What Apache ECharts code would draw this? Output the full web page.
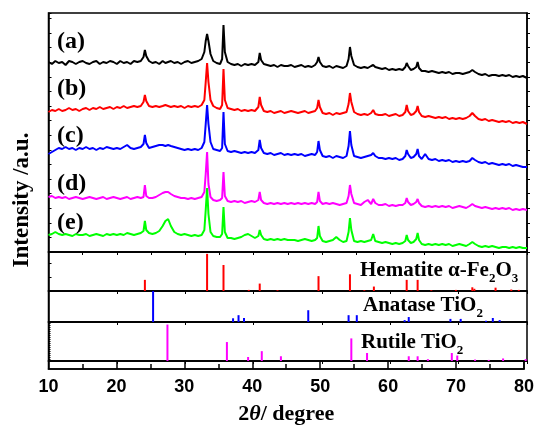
<!DOCTYPE html>
<html>
<head>
<meta charset="utf-8">
<script src="https://cdn.jsdelivr.net/npm/echarts@6/dist/echarts.min.js"></script>
<style>
html, body { margin: 0; padding: 0; background: #fff; }
#xrd { width: 537px; height: 429px; }
</style>
</head>
<body>
<div id="xrd"></div>
<script>
// 2theta sampling points, shared by the five patterns
const twoTheta = [
  10, 10.5, 11, 11.5, 12, 12.5, 13, 13.5, 14, 14.5,
  15, 15.5, 16, 16.5, 17, 17.5, 18, 18.5, 19, 19.5,
  20, 20.5, 21, 21.5, 22, 22.5, 23, 23.5, 23.9, 24.1,
  24.3, 24.7, 25.2, 25.7, 26.2, 26.7, 27.1, 27.5, 27.9, 28.4,
  28.9, 29.4, 29.9, 30.4, 30.9, 31.4, 31.9, 32.4, 32.8, 33.0,
  33.2, 33.4, 33.7, 34.1, 34.6, 35.1, 35.4, 35.6, 35.8, 36.2,
  36.7, 37.2, 37.7, 38.2, 38.7, 39.2, 39.7, 40.2, 40.7, 40.9,
  41.1, 41.5, 42, 42.5, 43, 43.5, 44, 44.5, 45, 45.5,
  46, 46.5, 47, 47.5, 48, 48.5, 49, 49.3, 49.5, 49.7,
  50.1, 50.6, 51.1, 51.6, 52.1, 52.6, 53.1, 53.6, 53.9, 54.1,
  54.3, 54.7, 55.2, 55.7, 56.2, 56.7, 57.2, 57.5, 57.8, 58.3,
  58.8, 59.3, 59.8, 60.3, 60.8, 61.3, 61.8, 62.2, 62.4, 62.6,
  63.0, 63.4, 63.8, 64.0, 64.2, 64.6, 65.1, 65.6, 66.1, 66.6,
  67.1, 67.6, 68.1, 68.6, 69.1, 69.6, 70.1, 70.6, 71.1, 71.6,
  72.0, 72.4, 72.9, 73.4, 73.9, 74.4, 74.9, 75.4, 75.9, 76.4,
  76.9, 77.4, 77.9, 78.4, 78.9, 79.4, 80
];

// intensities (a.u., curves already offset)
const sampleA = [
  190, 188, 191, 189, 190, 187, 191, 190, 188, 190,
  191, 189, 188, 190, 191, 188, 190, 189, 191, 190,
  188, 191, 189, 190, 188, 191, 190, 191, 195, 202,
  196, 191, 189, 190, 188, 191, 189, 190, 191, 189,
  190, 188, 190, 191, 189, 190, 191, 193, 200, 211,
  218, 211, 198, 191, 189, 188, 193, 227, 200, 190,
  188, 187, 188, 186, 188, 187, 188, 187, 190, 199,
  192, 188, 187, 186, 187, 185, 187, 186, 186, 187,
  185, 186, 187, 185, 186, 185, 187, 190, 195, 190,
  186, 185, 186, 184, 186, 185, 184, 186, 193, 205,
  196, 187, 185, 184, 185, 184, 186, 187, 185, 184,
  183, 184, 182, 183, 182, 183, 182, 185, 189, 186,
  182, 183, 185, 190, 184, 181, 181, 180, 181, 180,
  179, 180, 179, 180, 178, 179, 179, 178, 179, 180,
  182, 180, 178, 177, 178, 176, 177, 177, 176, 177,
  176, 177, 175, 176, 175, 176, 174
];
const sampleB = [
  140, 142, 141, 143, 141, 142, 144, 142, 143, 141,
  143, 144, 142, 144, 143, 145, 143, 144, 145, 143,
  145, 144, 146, 144, 145, 146, 145, 146, 150, 157,
  151, 146, 145, 146, 145, 146, 147, 146, 145, 146,
  145, 146, 144, 146, 145, 146, 145, 147, 152, 170,
  189, 170, 152, 146, 144, 143, 147, 183, 152, 144,
  143, 142, 143, 141, 142, 141, 142, 141, 145, 155,
  147, 141, 140, 141, 139, 140, 141, 139, 140, 141,
  140, 139, 140, 141, 139, 140, 141, 144, 152, 145,
  139, 138, 139, 137, 139, 138, 139, 140, 148, 159,
  150, 140, 138, 137, 138, 137, 139, 142, 138, 137,
  137, 138, 136, 137, 138, 136, 137, 140, 147, 141,
  137, 138, 141, 146, 140, 136, 135, 136, 135, 134,
  135, 134, 135, 133, 134, 133, 134, 133, 134, 136,
  139, 136, 133, 132, 133, 131, 132, 131, 130, 131,
  130, 131, 129, 130, 129, 130, 128
];
const sampleC = [
  98, 100, 102, 104, 103, 105, 103, 104, 102, 104,
  103, 105, 103, 104, 102, 104, 103, 105, 104, 103,
  104, 103, 105, 107, 104, 103, 104, 105, 108, 117,
  109, 104, 105, 106, 107, 107, 106, 107, 106, 105,
  104, 103, 102, 103, 102, 103, 102, 104, 110, 128,
  147, 128, 110, 103, 102, 101, 104, 140, 108, 101,
  100, 101, 100, 99, 100, 99, 100, 99, 102, 112,
  104, 99, 98, 99, 97, 98, 99, 97, 98, 97,
  98, 97, 98, 96, 97, 98, 97, 100, 111, 102,
  96, 95, 96, 94, 96, 95, 94, 96, 106, 121,
  107, 96, 95, 94, 95, 96, 97, 99, 96, 94,
  94, 93, 94, 93, 94, 92, 93, 96, 102, 98,
  94, 95, 98, 103, 96, 93, 98, 93, 92, 93,
  91, 92, 91, 92, 90, 91, 90, 91, 90, 91,
  94, 92, 90, 89, 90, 88, 89, 88, 87, 88,
  87, 88, 86, 87, 86, 85, 85
];
const sampleD = [
  55, 56, 54, 55, 54, 55, 53, 54, 55, 54,
  53, 54, 55, 54, 53, 54, 55, 53, 54, 55,
  54, 53, 54, 55, 53, 54, 55, 54, 55, 67,
  56, 54, 54, 55, 57, 59, 60, 60, 58, 56,
  55, 54, 54, 53, 54, 53, 54, 55, 60, 78,
  100, 68, 55, 52, 51, 52, 54, 80, 56, 51,
  50, 51, 50, 51, 49, 50, 51, 50, 52, 60,
  52, 49, 48, 49, 48, 49, 48, 49, 48, 49,
  48, 49, 48, 49, 48, 49, 48, 50, 60, 51,
  48, 49, 48, 49, 48, 47, 48, 49, 56, 67,
  58, 49, 48, 47, 50, 52, 48, 53, 49, 47,
  47, 48, 46, 47, 46, 47, 47, 49, 54, 50,
  47, 48, 50, 53, 49, 46, 45, 46, 45, 46,
  45, 46, 45, 46, 44, 45, 46, 45, 44, 46,
  48, 46, 45, 44, 45, 44, 43, 44, 43, 44,
  43, 44, 42, 43, 42, 43, 42
];
const sampleE = [
  17, 18, 20, 18, 17, 18, 17, 16, 18, 17,
  17, 18, 16, 17, 18, 17, 16, 18, 17, 18,
  17, 18, 17, 19, 18, 17, 18, 19, 21, 31,
  22, 19, 18, 19, 21, 26, 31, 33, 26, 20,
  18, 17, 18, 17, 16, 17, 16, 17, 22, 42,
  64, 38, 20, 16, 15, 15, 18, 45, 20, 14,
  14, 13, 14, 15, 17, 18, 16, 14, 16, 22,
  17, 13, 12, 13, 12, 13, 12, 13, 12, 12,
  12, 11, 12, 13, 12, 11, 12, 14, 26, 16,
  11, 10, 11, 12, 15, 12, 10, 11, 20, 34,
  22, 11, 10, 11, 10, 11, 12, 18, 11, 10,
  9, 10, 9, 8, 9, 8, 9, 11, 17, 12,
  9, 10, 13, 19, 12, 8, 7, 8, 7, 8,
  7, 8, 7, 8, 6, 7, 8, 7, 6, 8,
  10, 8, 6, 5, 6, 5, 6, 5, 4, 5,
  5, 4, 5, 4, 5, 4, 4
];

// reference patterns (position, relative intensity)
const hematitePos = [24.1, 33.2, 35.6, 39.3, 40.9, 43.5, 49.5, 54.1, 56.2, 57.6, 62.4, 64.0, 66.0, 69.6, 72.0, 72.3, 75.4, 77.7, 78.8];
const hematiteInt = [30, 100, 70, 3, 20, 2, 40, 45, 2, 12, 30, 30, 2, 3, 10, 6, 9, 4, 3];
const anatasePos = [25.3, 37.0, 37.8, 38.6, 48.0, 53.9, 55.1, 62.1, 62.7, 68.8, 70.3, 74.0, 75.0, 76.0];
const anataseInt = [100, 12, 22, 13, 38, 22, 22, 6, 16, 10, 10, 4, 13, 6];
const rutilePos = [27.4, 36.1, 39.2, 41.2, 44.0, 54.3, 56.6, 62.7, 64.0, 65.5, 69.0, 69.8, 72.4, 74.4, 76.5, 79.8];
const rutileInt = [100, 52, 11, 27, 13, 62, 22, 13, 13, 5, 22, 15, 4, 3, 7, 5];

const xTicks = [10, 20, 30, 40, 50, 60, 70, 80];
const sampleLabels = ['(a)', '(b)', '(c)', '(d)', '(e)'];
const sampleColors = ['#000000', '#ff0000', '#0000ff', '#ff00ff', '#00ff00'];
const samples = [sampleA, sampleB, sampleC, sampleD, sampleE];

const serif = 'Liberation Serif';
const sans = 'Liberation Sans';

let chart = echarts.init(document.getElementById('xrd'));

function pairs(xs, ys) {
    return xs.map((x, i) => [x, ys[i]]);
}

// vertical stick for each reference reflection
function stickSeries(idx, pos, ints, color) {
    return {
        type: 'custom',
        xAxisIndex: idx,
        yAxisIndex: idx,
        data: pairs(pos, ints),
        encode: { x: 0, y: 1 },
        renderItem: (params, api) => {
            const top = api.coord([api.value(0), api.value(1)]);
            const base = api.coord([api.value(0), 0]);
            return {
                type: 'line',
                shape: { x1: top[0], y1: top[1], x2: base[0], y2: base[1] },
                style: { stroke: color, lineWidth: 2 }
            };
        }
    };
}

const frame = { show: true, borderColor: '#000', borderWidth: 1.5, backgroundColor: 'transparent' };
const grids = [
    Object.assign({ left: 48.5, width: 478.5, top: 13, height: 239 }, frame),
    Object.assign({ left: 48.5, width: 478.5, top: 252, height: 39 }, frame),
    Object.assign({ left: 48.5, width: 478.5, top: 291, height: 31 }, frame),
    Object.assign({ left: 48.5, width: 478.5, top: 322, height: 39 }, frame),
    Object.assign({ left: 48.5, width: 478.5, top: 361, height: 8 }, frame)
];

const line = { show: true, lineStyle: { color: '#000', width: 1.5 } };

function topAxis(idx, interval) {
    return {
        type: 'value', gridIndex: idx, position: 'top', min: 10, max: 80, interval: interval,
        axisLine: line,
        axisTick: { show: true, inside: true, length: 3, lineStyle: { color: '#000', width: 1 } },
        axisLabel: { show: false },
        splitLine: { show: false }
    };
}

function sideAxis(idx, max, interval, tickLen, pos) {
    return {
        type: 'value', gridIndex: idx, position: pos || 'left', min: 0, max: max, interval: interval,
        axisLine: line,
        axisTick: { show: tickLen > 0, inside: pos !== 'right', length: Math.abs(tickLen), lineStyle: { color: '#000', width: 1 } },
        axisLabel: { show: false },
        splitLine: { show: false }
    };
}

let option = {
    animation: false,
    backgroundColor: '#fff',
    grid: grids,
    xAxis: [
        topAxis(0, 5),
        topAxis(1, 10),
        topAxis(2, 10),
        topAxis(3, 10),
        {
            type: 'value', gridIndex: 4, position: 'bottom', min: 10, max: 80, interval: 10,
            axisLine: line,
            axisTick: { show: true, inside: true, length: 8, lineStyle: { color: '#000', width: 1.5 } },
            minorTick: { show: true, splitNumber: 2, length: 5, lineStyle: { color: '#000', width: 1.5 } },
            axisLabel: {
                margin: 9, color: '#000', fontFamily: sans, fontWeight: 'bold', fontSize: 18,
                formatter: v => xTicks.includes(v) ? String(v) : ''
            },
            splitLine: { show: false },
            name: '{n|2}{i|θ}{n|/ degree}',
            nameLocation: 'middle',
            nameGap: 34,
            nameTextStyle: {
                rich: {
                    n: { fontFamily: serif, fontWeight: 'bold', fontSize: 22, color: '#000' },
                    i: { fontFamily: serif, fontWeight: 'bold', fontStyle: 'italic', fontSize: 22, color: '#000' }
                }
            }
        }
    ],
    yAxis: [
        sideAxis(0, 239, 14.6, 3),
        sideAxis(1, 105, 37.8, 3),
        sideAxis(2, 100, 50, 0),
        sideAxis(3, 107, 5.5, 2),
        { type: 'value', gridIndex: 4, min: 0, max: 1, show: false },
        sideAxis(0, 239, 14.6, 3, 'right')
    ],
    graphic: [],
    series: []
};

// the five measured patterns
samples.forEach((ys, k) => {
    option.series.push({
        type: 'line',
        xAxisIndex: 0,
        yAxisIndex: 0,
        data: pairs(twoTheta, ys),
        showSymbol: false,
        lineStyle: { color: sampleColors[k], width: 2 },
        z: 3 + k
    });
});

option.series.push(stickSeries(1, hematitePos, hematiteInt, '#ff0000'));
option.series.push(stickSeries(2, anatasePos, anataseInt, '#0000ff'));
option.series.push(stickSeries(3, rutilePos, rutileInt, '#ff00ff'));

// sample labels
const labelY = [43, 90, 137, 185, 224];
sampleLabels.forEach((t, k) => {
    option.graphic.push({
        type: 'text', left: 57, top: labelY[k] - 13, z: 20,
        style: { text: t, fontFamily: serif, fontWeight: 'bold', fontSize: 24, fill: '#000' }
    });
});

const phaseRich = {
    t: { fontFamily: serif, fontWeight: 'bold', fontSize: 21, color: '#000', lineHeight: 30 },
    s: { fontFamily: serif, fontWeight: 'bold', fontSize: 13, color: '#000', verticalAlign: 'bottom' }
};
const phaseText = [
    ['{t|Hematite α-Fe}{s|2}{t|O}{s|3}', 360, 260],
    ['{t|Anatase TiO}{s|2}', 363, 295],
    ['{t|Rutile TiO}{s|2}', 361, 332]
];
phaseText.forEach(p => {
    option.graphic.push({
        type: 'text', left: p[1], top: p[2], z: 20,
        style: { text: p[0], rich: phaseRich }
    });
});

option.graphic.push({
    type: 'text', x: 22, y: 200, rotation: Math.PI / 2, z: 20,
    style: {
        text: 'Intensity /a.u.', fontFamily: serif, fontWeight: 'bold', fontSize: 23, fill: '#000',
        align: 'center', verticalAlign: 'middle'
    }
});

chart.setOption(option);
</script>
</body>
</html>
